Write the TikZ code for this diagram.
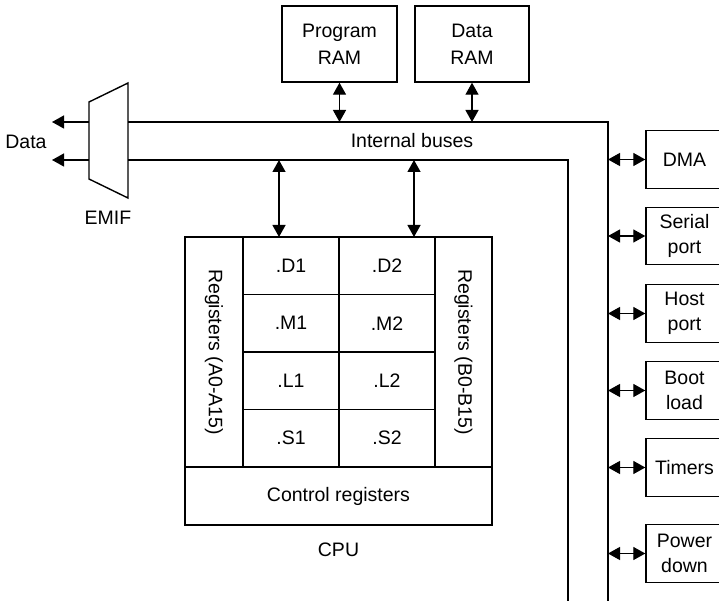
\documentclass[tikz,border=0pt]{standalone}
\usepackage{fontspec}
\setmainfont{Liberation Sans}
\usetikzlibrary{arrows.meta}
\begin{document}
\begin{tikzpicture}[x=1pt,y=-1pt,
  line width=1.4pt,
  every node/.style={font=\fontsize{19.5}{24.5}\selectfont, inner sep=0pt},
  box/.style={draw, align=center, line width=1.4pt},
  cell/.style={draw, line width=1.4pt, minimum width=96pt, minimum height=57.5pt},
  per/.style={draw, align=center, line width=1.4pt, minimum width=77pt, minimum height=57.5pt},
  dbl/.style={{Triangle[length=12pt,width=13pt]}-{Triangle[length=12pt,width=13pt]}, line width=1.3pt},
  sgl/.style={-{Triangle[length=12pt,width=13pt]}, line width=1.3pt}]
\useasboundingbox (0,0) rectangle (719,601);
\clip (0,0) rectangle (719,601);
\fill[white] (0,0) rectangle (719,601);

% memories
\node[box, minimum width=115pt, minimum height=76pt, font=\fontsize{19.5}{27}\selectfont] (prog) at (339.5,44) {Program\\RAM};
\node[box, minimum width=114pt, minimum height=76pt, font=\fontsize{19.5}{27}\selectfont] (dram) at (472,44) {Data\\RAM};

% EMIF
\coordinate (e1) at (89,102);
\coordinate (e2) at (128,83);
\coordinate (e3) at (128,198);
\coordinate (e4) at (89,179);
\draw (e1) -- (e2) -- (e3) -- (e4) -- cycle;
\node (emif) at (108,218) {EMIF};

% buses
\coordinate (bt0) at (128,122);
\coordinate (bt1) at (608,122);
\coordinate (bt2) at (608,610);
\coordinate (bb0) at (128,160);
\coordinate (bb1) at (568,160);
\coordinate (bb2) at (568,610);
\draw (bt0) -- (bt1) -- (bt2);
\draw (bb0) -- (bb1) -- (bb2);
\node (ib) at (412,141) {Internal buses};

% Data
\coordinate (d1) at (89,122);
\coordinate (d2) at (89,160);
\coordinate (dt1) at (52,122);
\coordinate (dt2) at (52,160);
\draw[sgl] (d1) -- (dt1);
\draw[sgl] (d2) -- (dt2);
\node (data) at (26,142) {Data};

\draw[dbl] (prog.south) -- (prog.south |- bt0);
\draw[dbl] (dram.south) -- (dram.south |- bt0);

% CPU
\node[draw, minimum width=58pt, minimum height=230pt] (ra) at (214,352) {};
\node[rotate=-90] (ratext) at (ra.center) {Registers (A0-A15)};
\node[draw, minimum width=57pt, minimum height=230pt] (rb) at (463.5,352) {};
\node[rotate=-90] (rbtext) at (rb.center) {Registers (B0-B15)};
\node[cell] (d1u) at (291,265.75) {.D1};
\node[cell] (d2u) at (387,265.75) {.D2};
\node[cell] (m1u) at (291,323.25) {.M1};
\node[cell] (m2u) at (387,323.25) {.M2};
\node[cell] (l1u) at (291,380.75) {.L1};
\node[cell] (l2u) at (387,380.75) {.L2};
\node[cell] (s1u) at (291,438.25) {.S1};
\node[cell] (s2u) at (387,438.25) {.S2};
\node[draw, minimum width=307pt, minimum height=58pt] (ctrl) at (338.5,496) {Control registers};
\node (cpu) at (338.5,550) {CPU};

\coordinate (c1) at (279,237);
\coordinate (c2) at (414,237);
\draw[dbl] (c1 |- bb0) -- (c1);
\draw[dbl] (c2 |- bb0) -- (c2);

% peripherals
\node[per] (dma) at (684.5,159.5) {DMA};
\node[per] (ser) at (684.5,236) {Serial\\port};
\node[per] (host) at (684.5,313.5) {Host\\port};
\node[per] (boot) at (684.5,390.5) {Boot\\load};
\node[per] (tim) at (684.5,467.5) {Timers};
\node[per] (pwr) at (684.5,553.5) {Power\\down};
\foreach \p in {dma,ser,host,boot,tim,pwr}
  \draw[dbl] (\p.west -| bt1) -- (\p.west);
\end{tikzpicture}
\end{document}
